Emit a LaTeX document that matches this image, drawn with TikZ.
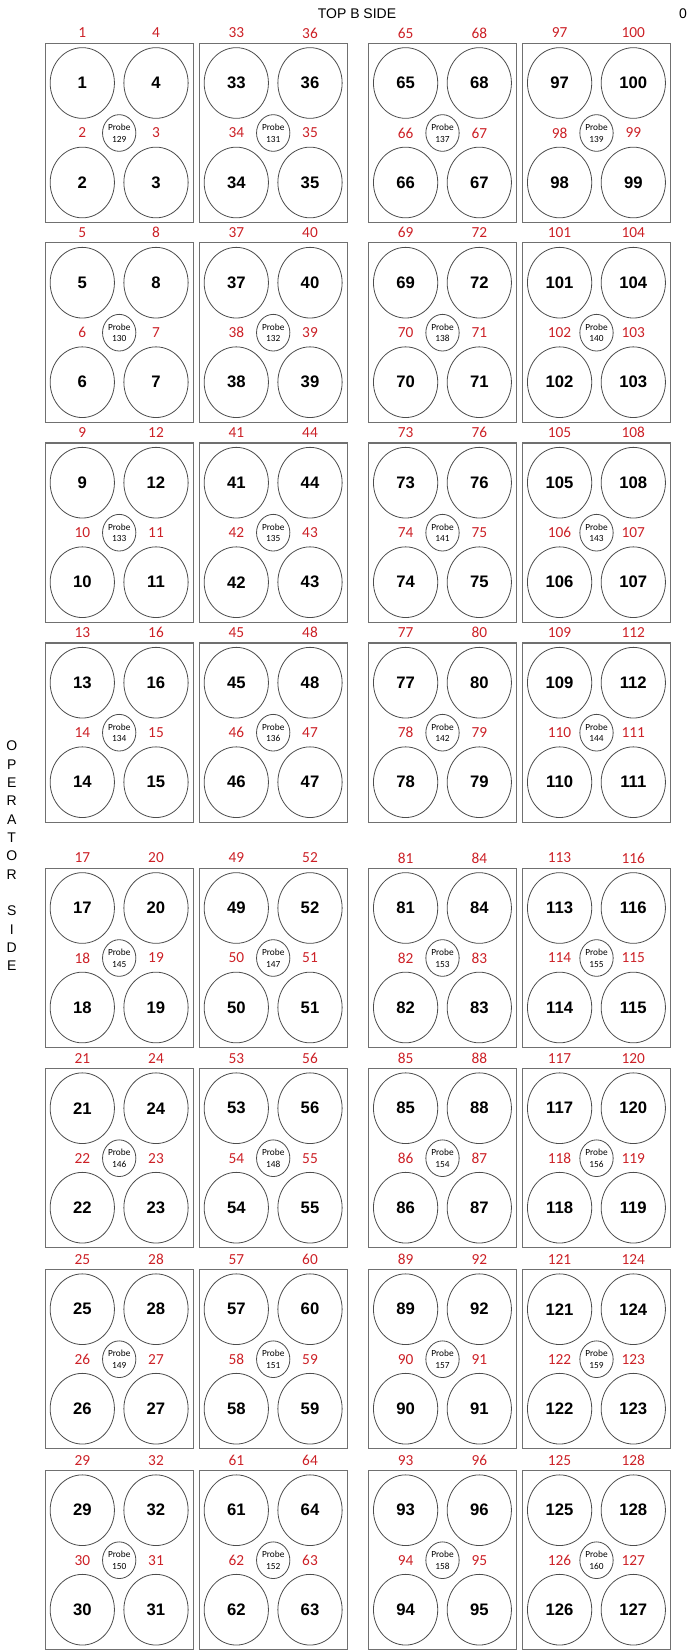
\documentclass[tikz,border=0pt]{standalone}
\usepackage{fontspec}
\setmainfont{Liberation Sans}
\newfontfamily\calibfont{Carlito}
\usetikzlibrary{shapes.geometric}

\definecolor{labelred}{RGB}{204,32,38}
\definecolor{edgegray}{RGB}{112,112,112}

\begin{document}
\begin{tikzpicture}[
    x=0.75pt, y=-0.75pt,
    every node/.style={inner sep=0pt},
    heading/.style={font=\fontsize{10.5}{12}\selectfont},
    side/.style={font=\fontsize{10.5}{13.75}\selectfont, align=center},
    tray/.style={draw=edgegray, line width=0.8pt, rectangle, minimum width=111.2pt, minimum height=134.6pt},
    well/.style={draw=black!70, line width=0.6pt, ellipse, minimum width=48.2pt, minimum height=53pt, font=\fontsize{12.5}{14}\selectfont\bfseries},
    probe/.style={draw=black!70, line width=0.6pt, ellipse, minimum width=25pt, minimum height=27.5pt, align=center, font=\calibfont\fontsize{7}{8.75}\selectfont},
    tag/.style={text=labelred, font=\calibfont\fontsize{11.5}{13}\selectfont}
]
    \useasboundingbox (0,0) rectangle (696,1651);

    % Headings
    \node (topside) [heading] at (357,13.3) {TOP B SIDE};
    \node (corner) [heading] at (683,13.3) {0};
    \node (opside) [side] at (11.7,855.8) {O\\P\\E\\R\\A\\T\\O\\R\\[13.75pt]S\\I\\D\\E};

    % Trays: 4 columns x 8 rows, four wells and one probe each
    \foreach \tx [count=\c from 0] in {45,199,368.3,522.3} {
      \foreach \ty [count=\r from 0] in {43.3,243,443,643,868.3,1068.5,1269.5,1470.5} {
        \pgfmathtruncatemacro\a{32*\c+4*\r+1}
        \pgfmathtruncatemacro\b{\a+1}
        \pgfmathtruncatemacro\cc{\a+2}
        \pgfmathtruncatemacro\d{\a+3}
        \pgfmathtruncatemacro\p{129+16*int(\r/4)+8*int(\c/2)+4*int(mod(\r,4)/2)+2*mod(\c,2)+mod(\r,2)}
        \begin{scope}[shift={(\tx,\ty)}]
          \node (tray\a) [tray] at (74.2,89.7) {};
          % Wells
          \node (well\a) [well] at (37.3,39.7) {\a};
          \node (well\d) [well] at (111,39.7) {\d};
          \node (well\b) [well] at (37.3,139.2) {\b};
          \node (well\cc) [well] at (111,139.2) {\cc};
          \node (probe\p) [probe] at (74.2,89.7) {Probe\\\p};
          % Red tags
          \node (tag\a) [tag] at (37.3,-10.3) {\a};
          \node (tag\d) [tag] at (111,-10.3) {\d};
          \node (tag\b) [tag] at (37.3,89.7) {\b};
          \node (tag\cc) [tag] at (111,89.7) {\cc};
        \end{scope}
      }
    }
\end{tikzpicture}
\end{document}
